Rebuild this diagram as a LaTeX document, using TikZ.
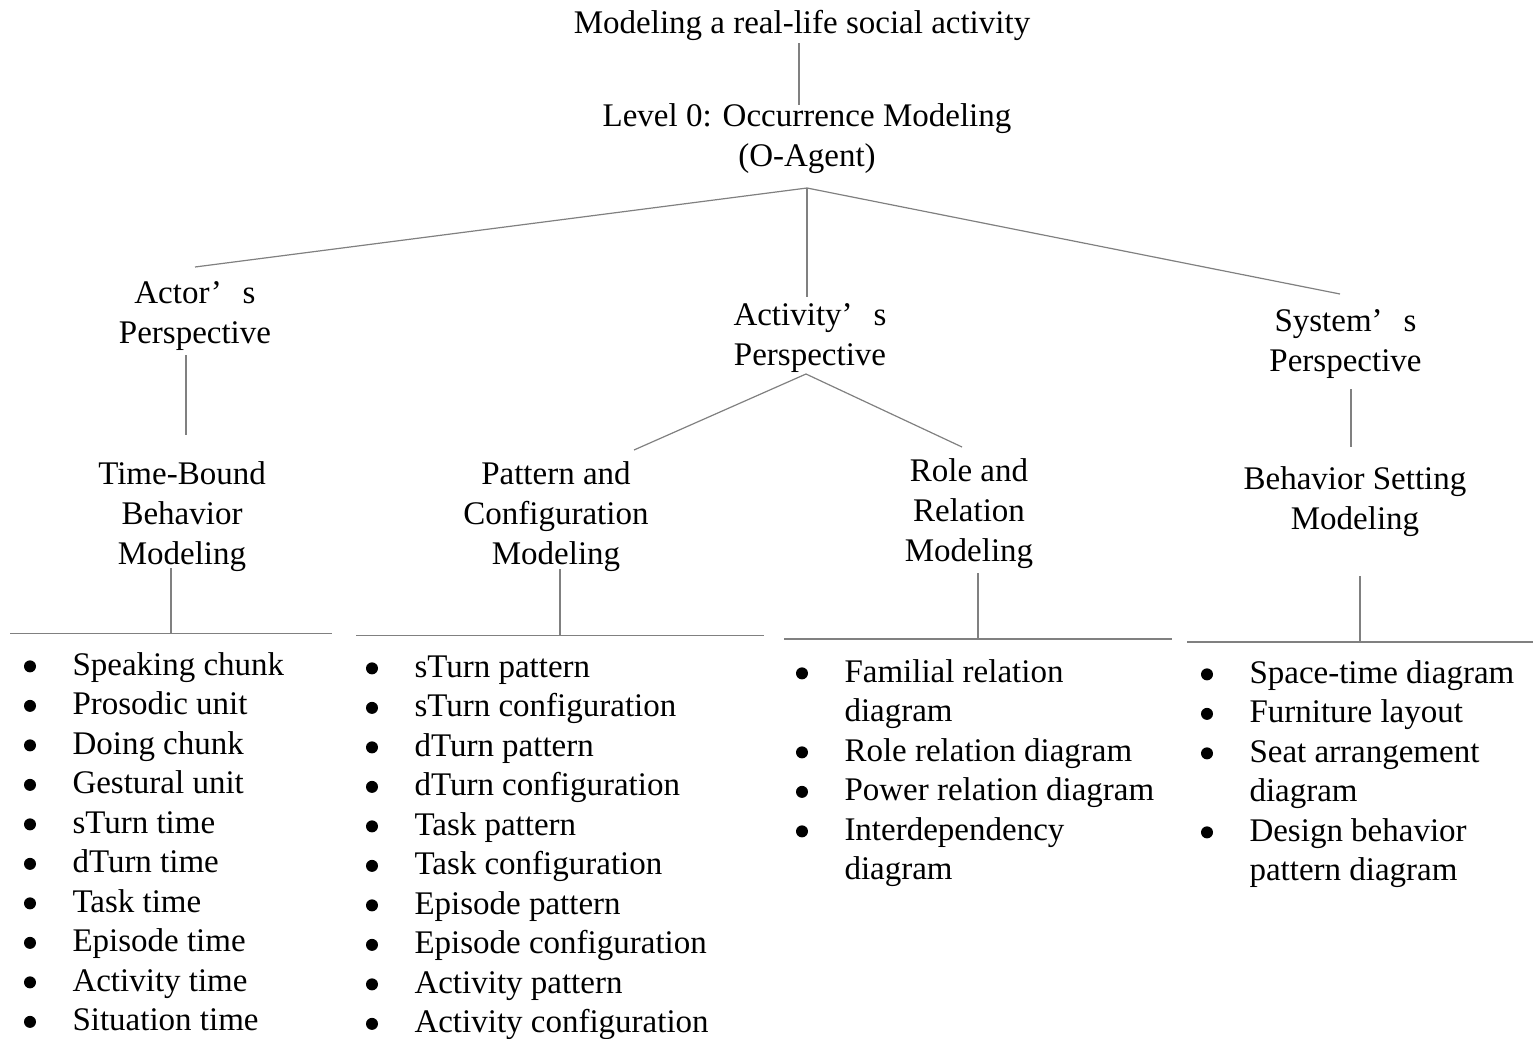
\documentclass[tikz,border=0pt]{standalone}
\usepackage{fontspec}
\setmainfont{Liberation Serif}
\usetikzlibrary{calc}

% list helper: indentation column that leaves room for the bullet dots
\newcommand\lcont{\makebox[48pt][l]{}}

\begin{document}
\begin{tikzpicture}[
  x=1pt, y=-1pt,
  conn/.style={draw=black!50, line width=1.2pt},
  head/.style={align=center, inner sep=0pt, outer sep=0pt,
    font=\fontsize{33}{40}\selectfont},
  itemlist/.style={align=left, inner sep=0pt, outer sep=0pt, anchor=north west,
    font=\fontsize{33}{39.5}\selectfont},
  bar/.style={inner sep=0pt, outer sep=0pt, minimum height=0pt},
  dot/.style={fill=black}
]
\path[use as bounding box] (0,0) rectangle (1535,1039);

% ---- headings ----
\node[head] (title)    at (802,25)    {\strut Modeling a real-life social activity};
\node[head] (level0)   at (807,138)   {\strut Level 0: Occurrence Modeling\\\strut (O-Agent)};
\node[head] (actor)    at (195,315)   {\strut Actor’\hspace{21pt}s\\\strut Perspective};
\node[head] (activity) at (810,337)   {\strut Activity’\hspace{21pt}s\\\strut Perspective};
\node[head] (system)   at (1345.5,343){\strut System’\hspace{21pt}s\\\strut Perspective};
\node[head] (timebound) at (182,516)  {\strut Time-Bound\\\strut Behavior\\\strut Modeling};
\node[head] (pattern)  at (556,516)   {\strut Pattern and\\\strut Configuration\\\strut Modeling};
\node[head] (role)     at (969,513)   {\strut Role and\\\strut Relation\\\strut Modeling};
\node[head] (behavior) at (1355,501)  {\strut Behavior Setting\\\strut Modeling};

% ---- horizontal bars above the lists ----
\node[bar, minimum width=322pt] (barL) at (171,633.5) {};
\node[bar, minimum width=408pt] (barP) at (560,635.5) {};
\node[bar, minimum width=388pt] (barR) at (978,639)   {};
\node[bar, minimum width=346pt] (barS) at (1360,642)  {};
\foreach \b in {barL,barP,barR,barS}
  \draw[conn] (\b.west) -- (\b.east);

% ---- item lists ----
\node[itemlist] (listL) at (24.5,647.35) {%
  \lcont\strut Speaking chunk\\
  \lcont\strut Prosodic unit\\
  \lcont\strut Doing chunk\\
  \lcont\strut Gestural unit\\
  \lcont\strut sTurn time\\
  \lcont\strut dTurn time\\
  \lcont\strut Task time\\
  \lcont\strut Episode time\\
  \lcont\strut Activity time\\
  \lcont\strut Situation time};
\node[itemlist] (listP) at (366.5,649.35) {%
  \lcont\strut sTurn pattern\\
  \lcont\strut sTurn configuration\\
  \lcont\strut dTurn pattern\\
  \lcont\strut dTurn configuration\\
  \lcont\strut Task pattern\\
  \lcont\strut Task configuration\\
  \lcont\strut Episode pattern\\
  \lcont\strut Episode configuration\\
  \lcont\strut Activity pattern\\
  \lcont\strut Activity configuration};
\node[itemlist] (listR) at (796.5,654.35) {%
  \lcont\strut Familial relation\\
  \lcont\strut diagram\\
  \lcont\strut Role relation diagram\\
  \lcont\strut Power relation diagram\\
  \lcont\strut Interdependency\\
  \lcont\strut diagram};
\node[itemlist] (listS) at (1201.5,655.35) {%
  \lcont\strut Space-time diagram\\
  \lcont\strut Furniture layout\\
  \lcont\strut Seat arrangement\\
  \lcont\strut diagram\\
  \lcont\strut Design behavior\\
  \lcont\strut pattern diagram};

% bullet dots, one per list item (line index within each list)
\foreach \i in {0,...,9}
  \fill[dot] ([shift={(5.5,19+39.5*\i)}]listL.north west) circle[radius=6];
\foreach \i in {0,...,9}
  \fill[dot] ([shift={(5.5,19+39.5*\i)}]listP.north west) circle[radius=6];
\foreach \i in {0,2,3,4}
  \fill[dot] ([shift={(5.5,19+39.5*\i)}]listR.north west) circle[radius=6];
\foreach \i in {0,1,2,4}
  \fill[dot] ([shift={(5.5,19+39.5*\i)}]listS.north west) circle[radius=6];

% ---- connectors ----
\draw[conn] ([shift={(-3,-2)}]title.south) -- ([shift={(-8,7)}]level0.north);

\coordinate (fork0) at ([shift={(0,10)}]level0.south);
\draw[conn] (fork0) -- ([shift={(0,-8)}]actor.north);
\draw[conn] (fork0) -- ([shift={(-3,0)}]activity.north);
\draw[conn] (fork0) -- ([shift={(-5.5,-9)}]system.north);

\draw[conn] ([shift={(-9,0)}]actor.south) -- ([shift={(4,-21)}]timebound.north);
\draw[conn] ([shift={(-11,-8)}]timebound.south) -- (barL.center -| 171,0);

\coordinate (fork1) at ([shift={(-4,-3)}]activity.south);
\draw[conn] (fork1) -- ([shift={(78,-6)}]pattern.north);
\draw[conn] (fork1) -- ([shift={(-7,-6)}]role.north);
\draw[conn] ([shift={(4,-7)}]pattern.south) -- (barP.center);
\draw[conn] ([shift={(9,0)}]role.south) -- (barR.center);

\draw[conn] ([shift={(5.5,6)}]system.south) -- ([shift={(-4,-14)}]behavior.north);
\draw[conn] ([shift={(5,35)}]behavior.south) -- (barS.center);
\end{tikzpicture}
\end{document}
